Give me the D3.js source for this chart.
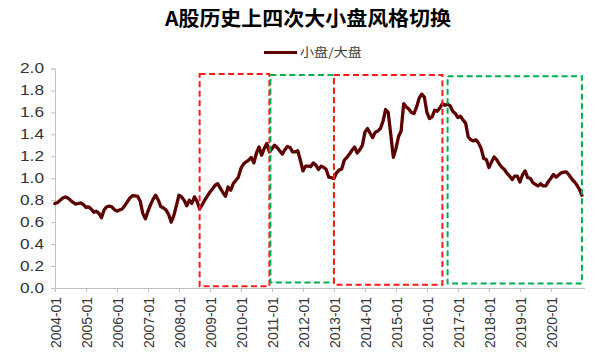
<!DOCTYPE html>
<html>
<head>
<meta charset="utf-8">
<script src="https://cdn.jsdelivr.net/npm/d3@7"></script>
<style>
  body { margin: 0; background: #fff; }
  svg { display: block; }
</style>
</head>
<body>
<svg id="chart" width="602" height="357"></svg>
<script>
// ---- data ----
const title = "A股历史上四次大小盘风格切换";
const seriesName = "小盘/大盘";
const startYear = 2004; // monthly from 2004-01
const ratio = [
  0.77, 0.78, 0.80, 0.82, 0.83, 0.82, 0.80, 0.78, 0.765, 0.77,
  0.775, 0.76, 0.735, 0.74, 0.72, 0.69, 0.70, 0.68, 0.64, 0.71,
  0.74, 0.745, 0.74, 0.715, 0.70, 0.71, 0.72, 0.75, 0.785, 0.82,
  0.842, 0.84, 0.835, 0.79, 0.68, 0.63, 0.70, 0.76, 0.81, 0.845,
  0.80, 0.74, 0.73, 0.71, 0.67, 0.60, 0.66, 0.75, 0.845, 0.83,
  0.80, 0.75, 0.80, 0.77, 0.83, 0.79, 0.72, 0.76, 0.80, 0.84,
  0.875, 0.905, 0.936, 0.95, 0.91, 0.87, 0.835, 0.92, 0.89, 0.95,
  0.98, 1.01, 1.09, 1.13, 1.15, 1.165, 1.19, 1.14, 1.23, 1.285,
  1.21, 1.27, 1.316, 1.24, 1.27, 1.30, 1.28, 1.25, 1.22, 1.26,
  1.29, 1.28, 1.24, 1.24, 1.25, 1.164, 1.067, 1.11, 1.11, 1.105,
  1.14, 1.12, 1.08, 1.11, 1.10, 1.08, 1.01, 1.005, 0.997, 1.05,
  1.075, 1.085, 1.164, 1.19, 1.22, 1.255, 1.285, 1.23, 1.26, 1.30,
  1.42, 1.453, 1.41, 1.37, 1.42, 1.43, 1.453, 1.52, 1.626, 1.60,
  1.40, 1.19, 1.27, 1.38, 1.43, 1.68, 1.65, 1.63, 1.60, 1.59,
  1.65, 1.73, 1.766, 1.74, 1.60, 1.544, 1.56, 1.62, 1.61, 1.64,
  1.68, 1.665, 1.675, 1.66, 1.61, 1.59, 1.553, 1.565, 1.53, 1.50,
  1.376, 1.35, 1.34, 1.35, 1.32, 1.27, 1.18, 1.17, 1.097, 1.147,
  1.194, 1.17, 1.13, 1.10, 1.08, 1.045, 1.02, 0.988, 1.02, 1.02,
  0.966, 1.03, 1.067, 1.006, 1.0, 0.96, 0.945, 0.93, 0.95, 0.93,
  0.93, 0.97, 1.00, 1.034, 1.01, 1.03, 1.05, 1.055, 1.057, 1.03,
  0.997, 0.97, 0.94, 0.90, 0.845
];
const yTicks = [0, 0.2, 0.4, 0.6, 0.8, 1.0, 1.2, 1.4, 1.6, 1.8, 2.0];
const xTickLabels = ["2004-01","2005-01","2006-01","2007-01","2008-01","2009-01","2010-01",
  "2011-01","2012-01","2013-01","2014-01","2015-01","2016-01","2017-01","2018-01","2019-01","2020-01"];
// style-switch periods (month index from 2004-01)
const boxStart  = [56, 83.4, 108, 152];
const boxEnd    = [83, 108, 150, 204];
const boxTop    = [1.95, 1.94, 1.94, 1.93];
const boxBottom = [0.015, 0.05, 0.03, 0.04];
const boxKind   = ["red", "green", "red", "green"];

// ---- drawing ----
const svg = d3.select("#chart");
const lineColor = "#5c0000";
const axisColor = "#bfbfbf";
const textColor = "#333333";
const boxColors = { red: "#ff1a1a", green: "#00b050" };

const x = d3.scaleLinear().domain([0, 205.2]).range([55, 585]);
const y = d3.scaleLinear().domain([0, 2]).range([288, 68.5]);

// title
svg.append("text")
  .attr("x", 308).attr("y", 26)
  .attr("text-anchor", "middle")
  .attr("font-family", "'Noto Sans CJK SC', sans-serif")
  .attr("font-weight", "bold")
  .attr("font-size", 20)
  .attr("textLength", 286)
  .attr("lengthAdjust", "spacingAndGlyphs")
  .attr("fill", "#000")
  .text(title);

// legend
svg.append("line")
  .attr("x1", 264).attr("x2", 297).attr("y1", 52.5).attr("y2", 52.5)
  .attr("stroke", lineColor).attr("stroke-width", 3);
svg.append("text")
  .attr("x", 300).attr("y", 57)
  .attr("font-family", "'Noto Sans CJK SC', sans-serif")
  .attr("font-size", 12)
  .attr("textLength", 62)
  .attr("lengthAdjust", "spacingAndGlyphs")
  .attr("fill", "#404040")
  .text(seriesName);

// y axis
const yAxis = d3.axisLeft(y).tickValues(yTicks).tickSize(4).tickPadding(7)
  .tickFormat(d3.format(".1f"));
const gy = svg.append("g").attr("transform", "translate(55,0)").call(yAxis);
gy.select(".domain").attr("stroke", axisColor);
gy.selectAll(".tick line").attr("stroke", axisColor);
gy.selectAll(".tick text")
  .attr("font-family", "Arial, 'Liberation Sans', sans-serif")
  .attr("font-size", 14)
  .attr("fill", textColor)
  .attr("textLength", 24)
  .attr("lengthAdjust", "spacingAndGlyphs");

// x axis
const xTickVals = xTickLabels.map((d, i) => i * 12);
const xAxis = d3.axisBottom(x).tickValues(xTickVals).tickSize(4)
  .tickFormat((d, i) => xTickLabels[i]);
const gx = svg.append("g").attr("transform", "translate(0,288)").call(xAxis);
gx.select(".domain").attr("stroke", axisColor).attr("d", `M${x(0)},0.5H585`);
gx.selectAll(".tick line").attr("stroke", axisColor);
gx.selectAll(".tick text")
  .attr("font-family", "Arial, 'Liberation Sans', sans-serif")
  .attr("font-size", 14)
  .attr("fill", textColor)
  .attr("text-anchor", "end")
  .attr("y", 0).attr("dy", "0.35em")
  .attr("transform", "translate(1,9) rotate(-90)")
  .attr("textLength", 51)
  .attr("lengthAdjust", "spacingAndGlyphs");

// series line
const line = d3.line().x((d, i) => x(i)).y(d => y(d)).curve(d3.curveLinear);
svg.append("path")
  .datum(ratio)
  .attr("d", line)
  .attr("fill", "none")
  .attr("stroke", lineColor)
  .attr("stroke-width", 3.3)
  .attr("stroke-linejoin", "round")
  .attr("stroke-linecap", "round");

// dashed boxes
boxStart.forEach((s, k) => {
  svg.append("rect")
    .attr("x", x(s)).attr("y", y(boxTop[k]))
    .attr("width", x(boxEnd[k]) - x(s))
    .attr("height", y(boxBottom[k]) - y(boxTop[k]))
    .attr("fill", "none")
    .attr("stroke", boxColors[boxKind[k]])
    .attr("stroke-width", 2)
    .attr("stroke-dasharray", "6,3.5");
});
</script>
</body>
</html>
